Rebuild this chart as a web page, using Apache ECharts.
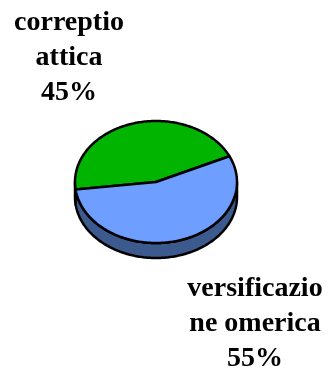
<!DOCTYPE html>
<html>
<head>
<meta charset="utf-8">
<script src="https://cdn.jsdelivr.net/npm/echarts@6/dist/echarts.min.js"></script>
<style>
  html, body { margin: 0; padding: 0; background: #fff; }
  #chart { width: 328px; height: 369px; }
</style>
</head>
<body>
<div id="chart"></div>
<script>
const categories = ['correptio\nattica', 'versificazio\nne omerica'];
const values = [45, 55];
const topColors = ['#00b400', '#6e9eff'];
const sideColors = ['#2f7a2f', '#3d5a8e'];

// layout of the tilted pie
const cx = 156, cy = 182, rx = 81, ry = 61, depth = 15;
const startDeg = 25;
const labelPos = [[69, 58], [255, 324]];

const total = values.reduce((a, b) => a + b, 0);

function sliceAngles(i) {
  let a0 = startDeg;
  for (let k = 0; k < i; k++) a0 += values[k] / total * 360;
  return [a0, a0 + values[i] / total * 360];
}

function pt(deg, dy) {
  const r = deg * Math.PI / 180;
  return [cx + rx * Math.cos(r), cy - ry * Math.sin(r) + (dy || 0)];
}

function arc(a0, a1, dy) {
  const pts = [];
  const n = Math.max(2, Math.ceil(Math.abs(a1 - a0)));
  for (let k = 0; k <= n; k++) pts.push(pt(a0 + (a1 - a0) * k / n, dy));
  return pts;
}

function renderSide(params, api) {
  const [a0, a1] = sliceAngles(params.dataIndex);
  const children = [];
  // front half of the cylinder is 180..360 (and 540..720)
  [[180, 360], [540, 720]].forEach(([f0, f1]) => {
    const b0 = Math.max(a0, f0), b1 = Math.min(a1, f1);
    if (b1 <= b0) return;
    const points = arc(b0, b1, 0).concat(arc(b1, b0, depth));
    children.push({
      type: 'polygon',
      shape: { points },
      style: { fill: sideColors[params.dataIndex], stroke: '#000', lineWidth: 2.5, lineJoin: 'round' }
    });
  });
  return { type: 'group', children };
}

function renderTop(params, api) {
  const i = params.dataIndex;
  const [a0, a1] = sliceAngles(i);
  const points = [[cx, cy]].concat(arc(a0, a1, 0));
  const pct = Math.round(api.value(0) / total * 100);
  return {
    type: 'group',
    children: [
      {
        type: 'polygon',
        shape: { points },
        style: { fill: topColors[i], stroke: '#000', lineWidth: 2.5, lineJoin: 'round' }
      },
      {
        type: 'text',
        style: {
          text: categories[i] + '\n' + pct + '%',
          x: labelPos[i][0],
          y: labelPos[i][1],
          align: 'center',
          verticalAlign: 'middle',
          fontFamily: '"Liberation Serif", "Times New Roman", serif',
          fontWeight: 'bold',
          fontSize: 28,
          lineHeight: 35,
          fill: '#000'
        }
      }
    ]
  };
}

const chart = echarts.init(document.getElementById('chart'));
chart.setOption({
  animation: false,
  series: [
    {
      type: 'custom',
      coordinateSystem: 'none',
      silent: true,
      renderItem: renderSide,
      data: values.map(v => [v])
    },
    {
      type: 'custom',
      coordinateSystem: 'none',
      silent: true,
      renderItem: renderTop,
      data: values.map(v => [v])
    }
  ]
});
</script>
</body>
</html>
